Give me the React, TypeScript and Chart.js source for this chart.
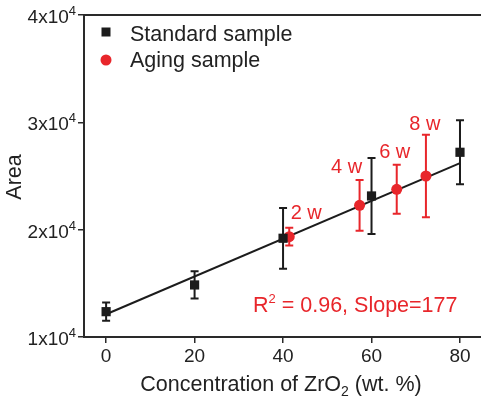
import React, { useEffect, useRef } from "react";
import { Chart, registerables } from "chart.js";

Chart.register(...registerables);

// ---- data ----
const standardX = [0, 20, 40, 60, 80];
const standardY = [12360, 14850, 19200, 23140, 27210];
const standardErr = [850, 1270, 2830, 3540, 2990];

const agingX = [41.4, 57.3, 65.7, 72.3];
const agingY = [19350, 22270, 23760, 25000];
const agingErr = [820, 2360, 2280, 3850];
const agingLabels = ["2 w", "4 w", "6 w", "8 w"];

const fitX = [0, 80];
const fitY = [12120, 26200];

const xTicks = [0, 20, 40, 60, 80];
const yTicks = [10000, 20000, 30000, 40000];
const yTickMantissa = ["1", "2", "3", "4"];

const legendLabels = ["Standard sample", "Aging sample"];
const fitText = "R";
const fitTextSup = "2";
const fitTextRest = " = 0.96, Slope=177";

// ---- style ----
const FONT = '"Liberation Sans", Arial, Helvetica, sans-serif';
const RED = "#e8262b";
const BLACK = "#1c1c1c";
const AXIS = "#2a2a2a";
// label offsets (pixels) relative to each aging point
const labelOffsets = [
  [17, -25],
  [-13, -39],
  [-2, -38],
  [-1, -53],
];

type Part = { t: string; size: number; dy: number };

function drawRich(ctx: CanvasRenderingContext2D, parts: Part[], x: number, y: number, align: "left" | "center" | "right") {
  let total = 0;
  const widths = parts.map((p) => {
    ctx.font = `${p.size}px ${FONT}`;
    const w = ctx.measureText(p.t).width;
    total += w;
    return w;
  });
  let cx = align === "left" ? x : align === "center" ? x - total / 2 : x - total;
  ctx.textAlign = "left";
  ctx.textBaseline = "alphabetic";
  parts.forEach((p, i) => {
    ctx.font = `${p.size}px ${FONT}`;
    ctx.fillText(p.t, cx, y + p.dy);
    cx += widths[i];
  });
}

const customPlugin = {
  id: "customDraw",
  beforeDatasetsDraw(chart: any) {
    const ctx = chart.ctx as CanvasRenderingContext2D;
    const xs = chart.scales.x;
    const ys = chart.scales.y;
    const drawErr = (xv: number[], yv: number[], ev: number[], color: string) => {
      ctx.save();
      ctx.strokeStyle = color;
      ctx.lineWidth = 2;
      for (let i = 0; i < xv.length; i++) {
        const px = xs.getPixelForValue(xv[i]);
        const top = ys.getPixelForValue(yv[i] + ev[i]);
        const bot = ys.getPixelForValue(yv[i] - ev[i]);
        ctx.beginPath();
        ctx.moveTo(px, top);
        ctx.lineTo(px, bot);
        ctx.moveTo(px - 4, top);
        ctx.lineTo(px + 4, top);
        ctx.moveTo(px - 4, bot);
        ctx.lineTo(px + 4, bot);
        ctx.stroke();
      }
      ctx.restore();
    };
    drawErr(standardX, standardY, standardErr, BLACK);
    drawErr(agingX, agingY, agingErr, RED);
  },
  afterDraw(chart: any) {
    const ctx = chart.ctx as CanvasRenderingContext2D;
    const xs = chart.scales.x;
    const ys = chart.scales.y;
    const area = chart.chartArea;
    ctx.save();
    // top frame line
    ctx.strokeStyle = AXIS;
    ctx.lineWidth = 2;
    ctx.beginPath();
    ctx.moveTo(area.left - 1, area.top);
    ctx.lineTo(area.right, area.top);
    ctx.stroke();

    // y tick labels
    ctx.fillStyle = "#222";
    yTicks.forEach((v, i) => {
      const py = ys.getPixelForValue(v);
      drawRich(
        ctx,
        [
          { t: yTickMantissa[i] + "x10", size: 19, dy: 0 },
          { t: "4", size: 13, dy: -8 },
        ],
        area.left - 8,
        py + 8,
        "right"
      );
    });
    // x tick labels
    xTicks.forEach((v) => {
      const px = xs.getPixelForValue(v);
      drawRich(ctx, [{ t: String(v), size: 19, dy: 0 }], px, area.bottom + 25, "center");
    });
    // x axis title
    drawRich(
      ctx,
      [
        { t: "Concentration of ZrO", size: 21.5, dy: 0 },
        { t: "2", size: 14, dy: 5 },
        { t: " (wt. %)", size: 21.5, dy: 0 },
      ],
      281,
      391,
      "center"
    );
    // y axis title
    ctx.save();
    ctx.translate(21, 177);
    ctx.rotate(-Math.PI / 2);
    drawRich(ctx, [{ t: "Area", size: 21.5, dy: 0 }], 0, 0, "center");
    ctx.restore();

    // legend
    ctx.fillStyle = BLACK;
    ctx.fillRect(101.5, 27.5, 9, 9);
    ctx.fillStyle = RED;
    ctx.beginPath();
    ctx.arc(106, 60, 5.5, 0, Math.PI * 2);
    ctx.fill();
    ctx.fillStyle = "#222";
    drawRich(ctx, [{ t: legendLabels[0], size: 21.5, dy: 0 }], 130, 41, "left");
    drawRich(ctx, [{ t: legendLabels[1], size: 21.5, dy: 0 }], 130, 67, "left");

    // aging labels
    ctx.fillStyle = RED;
    agingLabels.forEach((lab, i) => {
      const px = xs.getPixelForValue(agingX[i]) + labelOffsets[i][0];
      const py = ys.getPixelForValue(agingY[i]) + labelOffsets[i][1];
      drawRich(ctx, [{ t: lab, size: 20, dy: 0 }], px, py + 7, "center");
    });
    // fit text
    drawRich(
      ctx,
      [
        { t: fitText, size: 21.5, dy: 0 },
        { t: fitTextSup, size: 13, dy: -9 },
        { t: fitTextRest, size: 21.5, dy: 0 },
      ],
      253,
      312,
      "left"
    );
    ctx.restore();
  },
};

export default function App() {
  const ref = useRef<HTMLCanvasElement>(null);
  useEffect(() => {
    if (!ref.current) return;
    const chart = new Chart(ref.current, {
      type: "scatter",
      data: {
        datasets: [
          {
            label: legendLabels[0],
            data: standardX.map((x, i) => ({ x, y: standardY[i] })),
            pointStyle: "rect",
            pointRadius: 6.5,
            backgroundColor: BLACK,
            borderColor: BLACK,
            borderWidth: 0,
          },
          {
            label: legendLabels[1],
            data: agingX.map((x, i) => ({ x, y: agingY[i] })),
            pointStyle: "circle",
            pointRadius: 5.5,
            backgroundColor: RED,
            borderColor: RED,
            borderWidth: 0,
          },
          {
            label: "fit",
            data: fitX.map((x, i) => ({ x, y: fitY[i] })),
            showLine: true,
            pointRadius: 0,
            borderColor: BLACK,
            borderWidth: 2,
            backgroundColor: BLACK,
          },
        ],
      },
      options: {
        animation: false,
        responsive: false,
        layout: { autoPadding: false, padding: { top: 15, left: 0, right: 0, bottom: 0 } },
        plugins: { legend: { display: false }, tooltip: { enabled: false } },
        scales: {
          x: {
            type: "linear",
            min: -5,
            max: 84.75,
            afterBuildTicks: (s: any) => {
              s.ticks = xTicks.map((v) => ({ value: v }));
            },
            afterFit: (s: any) => {
              s.height = 63;
              s.paddingLeft = 0;
              s.paddingRight = 0;
            },
            ticks: { display: false },
            grid: { drawOnChartArea: false, drawTicks: true, tickLength: 6, color: AXIS, lineWidth: 1.5 },
            border: { display: true, color: AXIS, width: 2 },
          },
          y: {
            type: "linear",
            min: 10000,
            max: 40000,
            afterBuildTicks: (s: any) => {
              s.ticks = yTicks.map((v) => ({ value: v }));
            },
            afterFit: (s: any) => {
              s.width = 84;
            },
            ticks: { display: false },
            grid: { drawOnChartArea: false, drawTicks: true, tickLength: 6, color: AXIS, lineWidth: 1.5 },
            border: { display: true, color: AXIS, width: 2 },
          },
        },
      },
      plugins: [customPlugin],
    });
    return () => chart.destroy();
  }, []);
  return (
    <div style={{ position: "absolute", left: 0, top: 0, width: 481, height: 400, background: "#fff" }}>
      <canvas ref={ref} width={481} height={400} style={{ display: "block" }} />
    </div>
  );
}
